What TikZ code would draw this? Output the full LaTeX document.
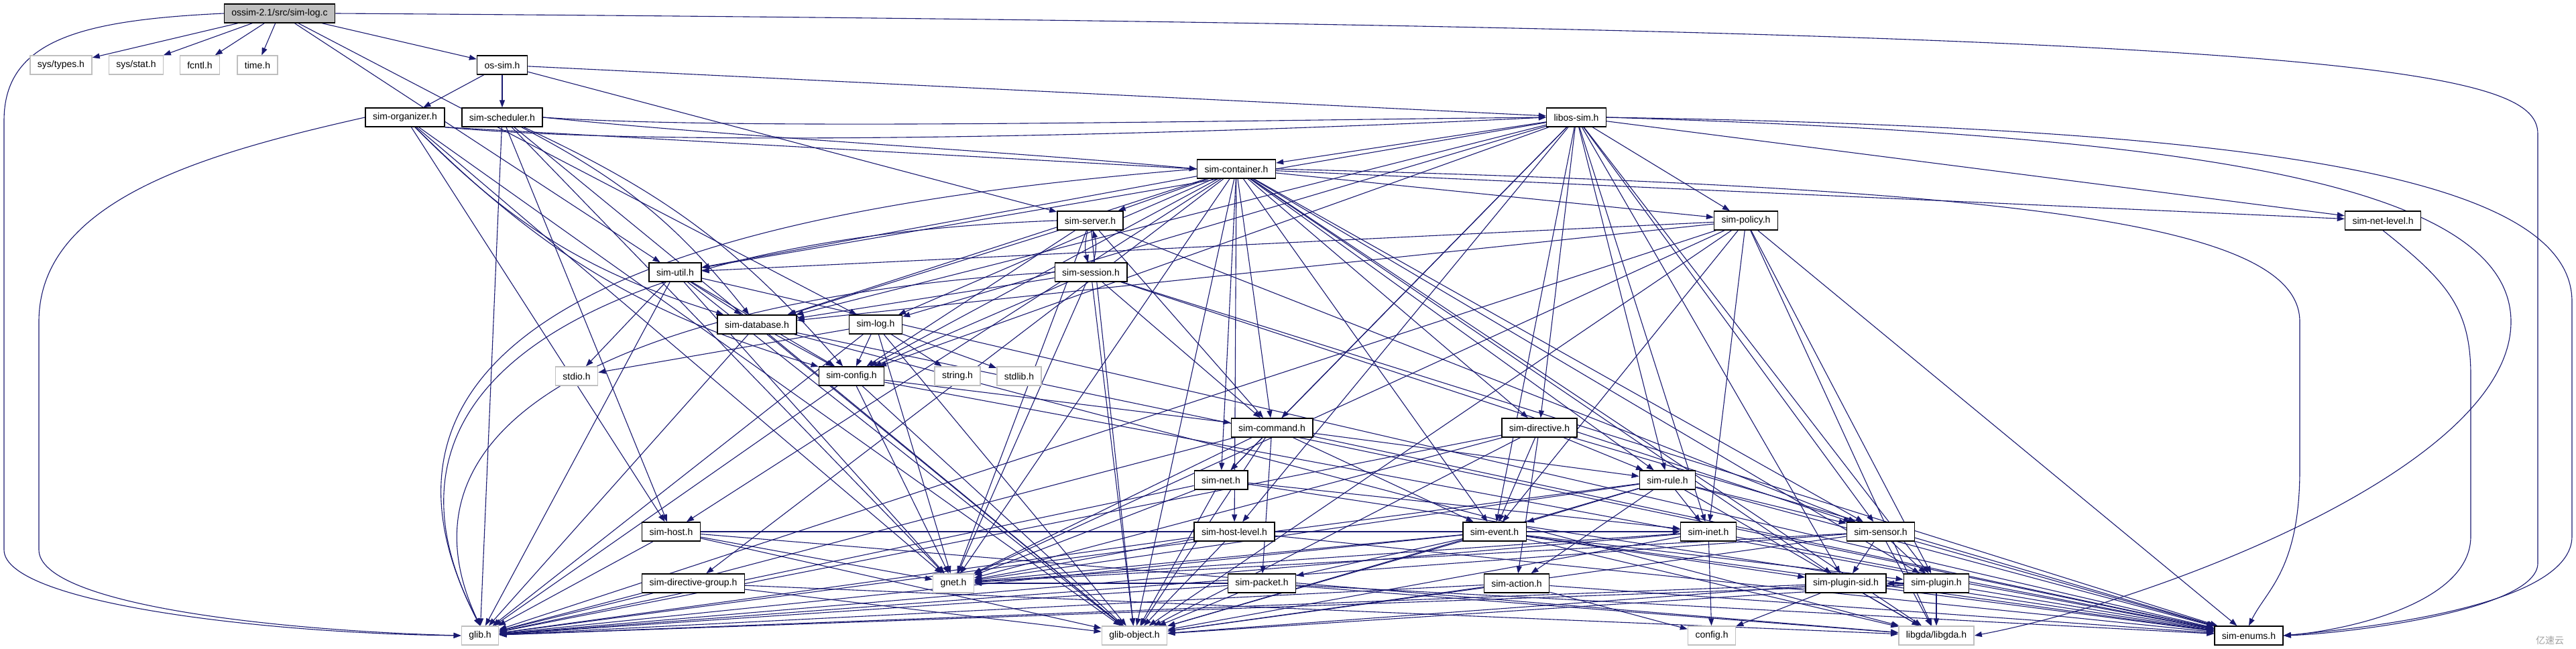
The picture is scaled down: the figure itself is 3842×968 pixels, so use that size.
\documentclass[tikz,border=0pt]{standalone}
\usepackage{fontspec}
\setmainfont{Liberation Sans}
\newfontfamily\cjk{Noto Sans CJK SC}
\usepackage{xcolor}
\usepackage{tikz}
\usetikzlibrary{arrows.meta,backgrounds}

\definecolor{edgeblue}{RGB}{25,25,112}
\definecolor{extgray}{RGB}{191,191,191}

\begin{document}
\begin{tikzpicture}[
  x=1pt, y=1pt,
  font=\fontsize{14}{16}\selectfont,
  box/.style={draw=black,line width=1.4pt,fill=white,minimum height=28pt,inner xsep=11pt,inner ysep=0pt},
  ext/.style={box,draw=extgray},
  root/.style={box,fill=extgray},
  arr/.style={-{Triangle[length=11pt,width=8pt]},edgeblue,line width=1.1pt},
]
\useasboundingbox (0,0) rectangle (3842,-968);

% first rows
\node[root] (logc) at (417,-20) {ossim-2.1/src/sim-log.c};
\node[ext] (systypes) at (91,-97) {sys/types.h};
\node[ext] (sysstat) at (203,-97) {sys/stat.h};
\node[ext] (fcntl) at (298,-97) {fcntl.h};
\node[ext] (timeh) at (384,-97) {time.h};
\node[box] (ossim) at (749,-97) {os-sim.h};
\node[box] (organizer) at (604,-175) {sim-organizer.h};
\node[box] (scheduler) at (749,-175) {sim-scheduler.h};
\node[box] (libos) at (2351,-175) {libos-sim.h};
\node[box] (container) at (1844,-252) {sim-container.h};
\node[box] (server) at (1626,-329) {sim-server.h};
\node[box] (policy) at (2604,-329) {sim-policy.h};
\node[box] (netlevel) at (3554,-329) {sim-net-level.h};
\node[box] (util) at (1007,-406) {sim-util.h};
\node[box] (session) at (1627,-406) {sim-session.h};
\node[box] (database) at (1129,-484) {sim-database.h};
\node[box] (logh) at (1306,-484) {sim-log.h};
\node[ext] (stdio) at (860,-561) {stdio.h};
\node[box] (config) at (1270,-561) {sim-config.h};
\node[ext] (stringh) at (1428,-561) {string.h};
\node[ext] (stdlib) at (1520,-561) {stdlib.h};
\node[box] (command) at (1897,-638) {sim-command.h};
\node[box] (directive) at (2296,-638) {sim-directive.h};
\node[box] (net) at (1821,-716) {sim-net.h};
\node[box] (rule) at (2487,-716) {sim-rule.h};
\node[box] (host) at (1001,-793) {sim-host.h};
\node[box] (hostlevel) at (1841,-793) {sim-host-level.h};
\node[box] (event) at (2229,-793) {sim-event.h};
\node[box] (inet) at (2548,-793) {sim-inet.h};
\node[box] (sensor) at (2805,-793) {sim-sensor.h};
\node[box] (dirgroup) at (1034,-870) {sim-directive-group.h};
\node[ext] (gnet) at (1422,-870) {gnet.h};
\node[box] (packet) at (1882,-870) {sim-packet.h};
\node[box] (action) at (2262,-870) {sim-action.h};
\node[box] (pluginsid) at (2753,-870) {sim-plugin-sid.h};
\node[box] (plugin) at (2888,-870) {sim-plugin.h};
% bottom row
\node[ext] (glib) at (716,-948) {glib.h};
\node[ext] (globj) at (1692,-948) {glib-object.h};
\node[ext] (confh) at (2553,-948) {config.h};
\node[ext] (libgda) at (2888,-948) {libgda/libgda.h};
\node[box] (enums) at (3354,-948) {sim-enums.h};
\node[text=gray!75,font=\cjk\fontsize{14}{16}\selectfont] (mark) at (3803,-955) {亿速云};

\begin{scope}[on background layer]
\foreach \t in {systypes,sysstat,fcntl,timeh,ossim,logh,util}
  \draw[arr] (logc) -- (\t);
\draw[arr] (logc.west) .. controls (120,-30) and (6,-60) .. (6,-180) -- (6,-820) .. controls (6,-900) and (400,-945) .. (glib.west);
\draw[arr] (logc.east) .. controls (3500,-40) and (3785,-100) .. (3785,-200) -- (3785,-840) .. controls (3785,-910) and (3500,-945) .. (enums.east);
\foreach \t in {organizer,scheduler,libos,server}
  \draw[arr] (ossim) -- (\t);
\foreach \t in {globj,gnet,host}
  \draw[arr] (organizer) -- (\t);
\foreach \t in {database,config}
  \draw[arr] (organizer) to[bend right=14] (\t);
\draw[arr] (organizer.south east) -- (container.west);
\draw[arr] (organizer.south east) .. controls (1000,-222) and (1800,-200) .. (libos.west);
\draw[arr] (organizer.west) .. controls (300,-230) and (58,-300) .. (58,-480) -- (58,-820) .. controls (58,-900) and (400,-940) .. (glib.west);
\foreach \t in {glib,globj,gnet,host}
  \draw[arr] (scheduler) -- (\t);
\foreach \t in {database,config}
  \draw[arr] (scheduler) to[bend left=12] (\t);
\draw[arr] (scheduler.east) .. controls (1100,-205) and (1500,-225) .. (container.west);
\draw[arr] (scheduler.east) .. controls (1100,-195) and (1800,-180) .. (libos.west);
\foreach \t in {container,policy,netlevel,database,logh,util,config,command,directive,net,rule,event,inet,sensor,plugin,pluginsid,hostlevel}
  \draw[arr] (libos) -- (\t);
\draw[arr] (libos.east) .. controls (3300,-190) and (3836,-250) .. (3836,-450) -- (3836,-800) .. controls (3836,-900) and (3550,-935) .. (enums.east);
\draw[arr] (libos.east) .. controls (3200,-200) and (3745,-260) .. (3745,-480) .. controls (3745,-700) and (3200,-900) .. (libgda.east);
\foreach \t in {server,util,database,config,logh,command,net,hostlevel,host,dirgroup,directive,event,rule,sensor,policy,netlevel,plugin,pluginsid,libgda,globj,gnet}
  \draw[arr] (container) -- (\t);
\draw[arr] (container.west) .. controls (1200,-300) and (450,-420) .. (glib.north);
\draw[arr] (container.east) .. controls (3000,-280) and (3430,-330) .. (3430,-480) -- (3430,-700) .. controls (3430,-850) and (3380,-880) .. (enums.north);
\draw[arr] (server) to[bend right=15] (session);
\draw[arr] (session) to[bend right=15] (server);
\foreach \t in {globj,gnet,database,config,command,sensor}
  \draw[arr] (server) -- (\t);
\draw[arr] (server.west) .. controls (1000,-350) and (500,-520) .. (glib.north);
\foreach \t in {globj,gnet,database,config,command,enums,sensor}
  \draw[arr] (session) -- (\t);
\draw[arr] (session.west) .. controls (1000,-440) and (560,-600) .. (glib.north);
\foreach \t in {util,database,glib,globj,gnet,event,inet,plugin,enums,libgda}
  \draw[arr] (policy) -- (\t);
\draw[arr] (netlevel.south) .. controls (3650,-420) and (3685,-460) .. (3685,-560) -- (3685,-800) .. controls (3685,-900) and (3500,-940) .. (enums.east);
\foreach \t in {glib,globj,gnet,database,config,stdio,enums}
  \draw[arr] (util) -- (\t);
\foreach \t in {glib,globj,config,libgda,enums}
  \draw[arr] (database) -- (\t);
\foreach \t in {glib,globj,gnet,config,stdio,stringh,stdlib}
  \draw[arr] (logh) -- (\t);
\foreach \t in {glib,globj,gnet,command,enums}
  \draw[arr] (config) -- (\t);
\foreach \t in {glib,globj,gnet,net,event,rule,packet,enums}
  \draw[arr] (command) -- (\t);
\foreach \t in {glib,globj,gnet,event,rule,action,enums}
  \draw[arr] (directive) -- (\t);
\foreach \t in {glib,globj,gnet,inet,enums}
  \draw[arr] (net) -- (\t);
\foreach \t in {glib,globj,gnet,event,inet,action,sensor,enums,libgda}
  \draw[arr] (rule) -- (\t);
\foreach \t in {glib,globj,gnet,enums}
  \draw[arr] (hostlevel) -- (\t);
\foreach \t in {glib,globj,gnet,inet,libgda}
  \draw[arr] (host) -- (\t);
\foreach \t in {glib,globj,gnet,packet,pluginsid,plugin,enums,libgda}
  \draw[arr] (event) -- (\t);
\foreach \t in {glib,globj,gnet,confh,enums}
  \draw[arr] (inet) -- (\t);
\foreach \t in {glib,globj,gnet,plugin,pluginsid,enums,libgda}
  \draw[arr] (sensor) -- (\t);
\foreach \t in {glib,globj,libgda}
  \draw[arr] (dirgroup) -- (\t);
\foreach \t in {glib,globj,gnet,libgda,enums}
  \draw[arr] (packet) -- (\t);
\foreach \t in {glib,globj,confh,enums}
  \draw[arr] (action) -- (\t);
\foreach \t in {glib,globj,confh,libgda,enums}
  \draw[arr] (pluginsid) -- (\t);
\foreach \t in {glib,globj,libgda,enums,pluginsid}
  \draw[arr] (plugin) -- (\t);
\end{scope}
\end{tikzpicture}
\end{document}
